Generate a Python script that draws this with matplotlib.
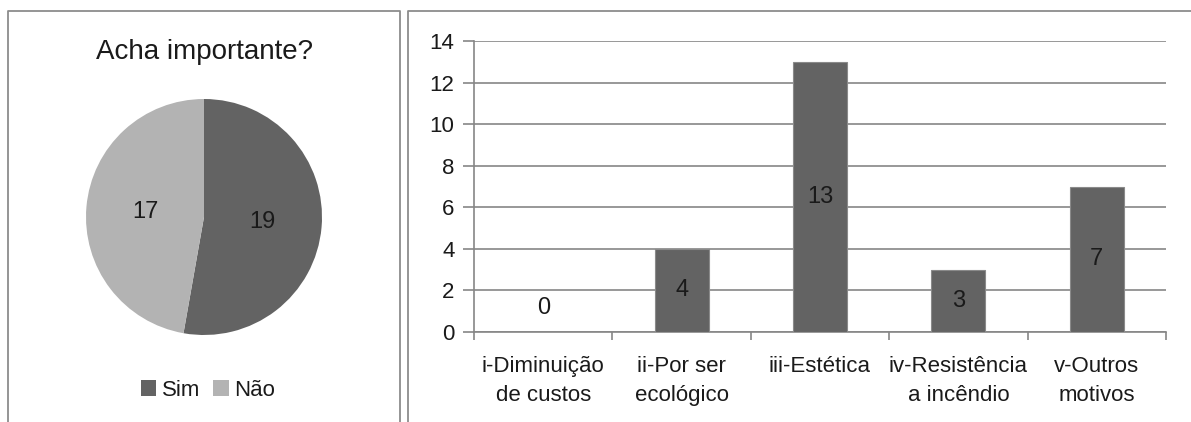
import matplotlib
matplotlib.use("Agg")
import matplotlib.pyplot as plt
from matplotlib.lines import Line2D

plt.rcParams['font.family'] = ['Liberation Sans Narrow', 'Liberation Sans', 'DejaVu Sans']

# Pergunta 1: acha importante?
resp_labels = ['Sim', 'Não']
resp_values = [19, 17]
resp_colors = ['#636363', '#b3b3b3']

# Pergunta 2: motivos
motivos = ['i-Diminuição\nde custos', 'ii-Por ser\necológico', 'iii-Estética',
           'iv-Resistência\na incêndio', 'v-Outros\nmotivos']
contagens = [0, 4, 13, 3, 7]
y_ticks = [0, 2, 4, 6, 8, 10, 12, 14]

W, H = 1191, 422
fig = plt.figure(figsize=(W / 100, H / 100), dpi=100)

def fx(px):
    return px / W

def fy(py):
    return 1 - py / H

border = '#8c8c8c'
grid_c = '#868686'

# molduras dos dois graficos (a parte de baixo fica cortada)
for xs, ys in [([8, 8, 400, 400], [422, 11, 11, 422]),
               ([408, 408, 1195], [422, 11, 11])]:
    fig.add_artist(Line2D([fx(x) for x in xs], [fy(y) for y in ys],
                          color=border, lw=1.3, transform=fig.transFigure))

# --- grafico de pizza ---
cx, cy, r = 204, 217, 118
ax_pie = fig.add_axes([fx(cx - r), fy(cy + r), fx(2 * r), (2 * r) / H])
wedges, texts, autotexts = ax_pie.pie(
    resp_values, colors=resp_colors, startangle=90, counterclock=False,
    autopct=lambda p: f'{round(p * sum(resp_values) / 100):d}',
    pctdistance=0.5, textprops=dict(fontsize=17, color='#1a1a1a'),
    wedgeprops=dict(linewidth=0))
ax_pie.set_xlim(-1, 1)
ax_pie.set_ylim(-1, 1)
ax_pie.set_aspect('equal')
fig.text(fx(cx), fy(52), 'Acha importante?', ha='center', va='center',
         fontsize=20, color='#1a1a1a')
fig.legend(wedges, resp_labels, loc='center', bbox_to_anchor=(fx(cx + 4), fy(390)),
           ncol=2, frameon=False, fontsize=16, handlelength=0.7, handleheight=0.7,
           handletextpad=0.25, columnspacing=0.6, labelcolor='#1a1a1a')

# --- grafico de barras ---
ax = fig.add_axes([fx(474), fy(332), fx(1166 - 474), (332 - 41) / H])
x = range(len(contagens))
ax.bar(x, contagens, width=0.39, color='#636363', edgecolor='#8a8a8a',
       linewidth=0.8, zorder=3)
for i, v in enumerate(contagens):
    ax.text(i, v / 2 if v else 1.15, str(v), ha='center', va='center',
            fontsize=17, color='#1a1a1a', zorder=4)

ax.set_xlim(-0.5, len(contagens) - 0.5)
ax.set_ylim(0, 14)
ax.set_yticks(y_ticks)
ax.yaxis.grid(True, color=grid_c, lw=1.2, zorder=0)
ax.set_axisbelow(True)
ax.set_xticks(list(x))
ax.set_xticklabels(motivos, fontsize=16, color='#1a1a1a', linespacing=1.5)
ax.set_xticks([i - 0.5 for i in range(len(contagens) + 1)], minor=True)
ax.tick_params(axis='x', which='major', length=0, pad=17)
ax.tick_params(axis='x', which='minor', length=6, color=grid_c, width=1.2)
ax.tick_params(axis='y', length=8, color=grid_c, width=1.2, labelsize=16,
               labelcolor='#1a1a1a', pad=6)
for s in ['top', 'right']:
    ax.spines[s].set_visible(False)
for s in ['left', 'bottom']:
    ax.spines[s].set_color(grid_c)
    ax.spines[s].set_linewidth(1.2)

fig.savefig('out.png', dpi=100)
